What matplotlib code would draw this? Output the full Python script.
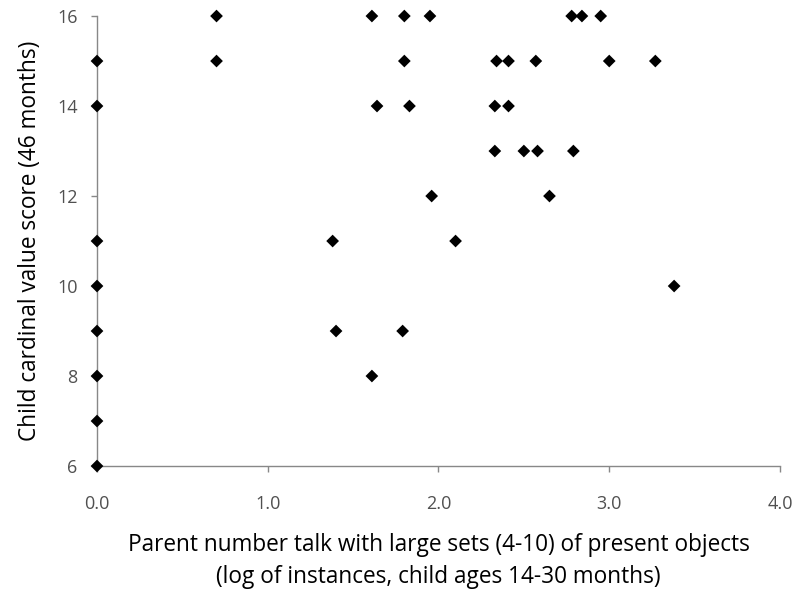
import matplotlib
matplotlib.use("Agg")
import matplotlib.pyplot as plt

# parent number talk (log of instances) vs child cardinal value score
parent_talk = [
    0.0, 0.0, 0.0, 0.0, 0.0, 0.0, 0.0, 0.0,
    0.70, 1.61, 1.80, 1.95, 2.78, 2.84, 2.95,
    0.70, 1.80, 2.34, 2.41, 2.57, 3.00, 3.27,
    1.64, 1.83, 2.33, 2.41,
    2.33, 2.50, 2.58, 2.79,
    1.96, 2.65,
    1.38, 2.10,
    3.38,
    1.40, 1.79,
    1.61,
]
child_score = [
    15, 14, 11, 10, 9, 8, 7, 6,
    16, 16, 16, 16, 16, 16, 16,
    15, 15, 15, 15, 15, 15, 15,
    14, 14, 14, 14,
    13, 13, 13, 13,
    12, 12,
    11, 11,
    10,
    9, 9,
    8,
]

x_ticks = [0.0, 1.0, 2.0, 3.0, 4.0]
y_ticks = [6, 8, 10, 12, 14, 16]

plt.rcParams['font.family'] = ['Open Sans', 'DejaVu Sans']

fig = plt.figure(figsize=(7.99, 5.98), dpi=100)
ax = fig.add_axes([0.1214, 0.2207, 0.8548, 0.7525])

ax.scatter(parent_talk, child_score, marker='D', s=42, color='black',
           edgecolors='none', zorder=5, clip_on=False)

ax.set_xlim(0, 4.0)
ax.set_ylim(6, 16)
ax.set_xticks(x_ticks)
ax.set_xticklabels([f"{t:.1f}" for t in x_ticks])
ax.set_yticks(y_ticks)

for side in ['top', 'right']:
    ax.spines[side].set_visible(False)
for side in ['left', 'bottom']:
    ax.spines[side].set_color('#888888')
    ax.spines[side].set_linewidth(1.0)

ax.tick_params(axis='both', direction='out', length=4, width=1,
               color='#888888', labelcolor='#505050', labelsize=13)
ax.tick_params(axis='x', pad=17)
ax.tick_params(axis='y', pad=10)

ax.set_xlabel("Parent number talk with large sets (4-10) of present objects\n"
              "(log of instances, child ages 14-30 months)",
              fontsize=16.3, color='black', labelpad=14, linespacing=1.45)
ax.set_ylabel("Child cardinal value score (46 months)", fontsize=16.3,
              color='black', labelpad=11)

fig.savefig("out.png", dpi=100, facecolor='white')
plt.close(fig)
